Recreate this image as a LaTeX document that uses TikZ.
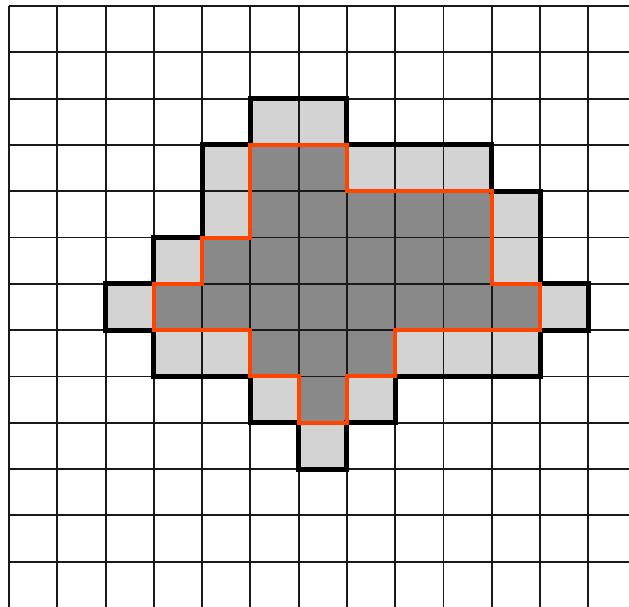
\documentclass[tikz,border=0pt]{standalone}
\usepackage{xcolor}
\definecolor{colOuter}{HTML}{D3D3D3}
\definecolor{colInner}{HTML}{898989}
\definecolor{colEdge}{HTML}{FF4500}
\usepackage{tikz}
\usetikzlibrary{calc}
\tikzset{
	gridline/.style={line width=0.038cm, black!90},
	outercell/.style={fill=colOuter},
	innercell/.style={fill=colInner},
	outerline/.style={line width=0.1cm, black},
	innerline/.style={line width=0.08cm, colEdge},
}
\newcommand{\outerblob}{(5,2) -- (7,2) -- (7,3) -- (10,3) -- (10,4) -- (11,4) -- (11,6) -- (12,6) -- (12,7) -- (11,7) -- (11,8) -- (8,8) -- (8,9) -- (7,9) -- (7,10) -- (6,10) -- (6,9) -- (5,9) -- (5,8) -- (3,8) -- (3,7) -- (2,7) -- (2,6) -- (3,6) -- (3,5) -- (4,5) -- (4,3) -- (5,3) -- cycle}
\newcommand{\innerblob}{(5,3) -- (7,3) -- (7,4) -- (10,4) -- (10,6) -- (11,6) -- (11,7) -- (8,7) -- (8,8) -- (7,8) -- (7,9) -- (6,9) -- (6,8) -- (5,8) -- (5,7) -- (3,7) -- (3,6) -- (4,6) -- (4,5) -- (5,5) -- cycle}

\begin{document}
\begin{tikzpicture}[x=0.9656cm, y=-0.9262cm]
	\useasboundingbox (-0.1864,-0.1296) rectangle (12.842,12.978);
	\clip (-0.1864,-0.1296) rectangle (12.842,12.978);
	% region and its core
	\fill[outercell] \outerblob;
	\fill[innercell] \innerblob;
	% grid
	\foreach \i in {0,...,13} {
		\draw[gridline] (\i,0) -- (\i,13);
		\draw[gridline] (0,\i) -- (13,\i);
	}
	% boundaries
	\draw[outerline] \outerblob;
	\draw[innerline] \innerblob;
\end{tikzpicture}
\end{document}
